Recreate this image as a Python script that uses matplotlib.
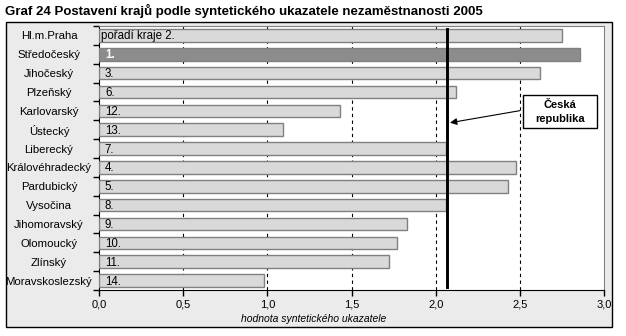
import matplotlib
matplotlib.use("Agg")
import matplotlib.pyplot as plt
import matplotlib.patches as patches
from matplotlib.ticker import FuncFormatter

plt.rcParams['font.family'] = ['Liberation Sans', 'DejaVu Sans']

# data
kraje = ["Hl.m.Praha", "Středočeský", "Jihočeský", "Plzeňský", "Karlovarský", "Ústecký",
         "Liberecký", "Královéhradecký", "Pardubický", "Vysočina", "Jihomoravský",
         "Olomoucký", "Zlínský", "Moravskoslezský"]
hodnoty = [2.75, 2.86, 2.62, 2.12, 1.43, 1.095, 2.06, 2.48, 2.43, 2.06, 1.83, 1.77, 1.72, 0.98]
poradi = ["pořadí kraje 2.", "1.", "3.", "6.", "12.", "13.", "7.", "4.", "5.", "8.",
          "9.", "10.", "11.", "14."]
cr_hodnota = 2.07

W, H = 626, 336
fig = plt.figure(figsize=(W / 100, H / 100), dpi=100)

# vnejsi ramecek grafu
fig.patches.append(patches.Rectangle((5.5 / W, 1 - 327 / H), 606 / W, 305 / H,
                                     transform=fig.transFigure, facecolor="#ebebeb",
                                     edgecolor="black", linewidth=1, zorder=-5))

fig.text(5 / W, 1 - 11 / H, "Graf 24 Postavení krajů podle syntetického ukazatele nezaměstnanosti 2005",
         fontsize=9.5, fontweight="bold", va="center", ha="left")

ax = fig.add_axes([99 / W, 1 - 290 / H, 505 / W, 264 / H])
ax.set_zorder(2)
ax.set_facecolor("white")

y = list(range(len(kraje)))
barvy = ["#8c8c8c" if k == "Středočeský" else "#d9d9d9" for k in kraje]
ax.barh(y, hodnoty, height=0.66, color=barvy, edgecolor="#808080", linewidth=1, zorder=3)

for i, txt in enumerate(poradi):
    bila = kraje[i] == "Středočeský"
    ax.text(0.012 if i == 0 else 0.035, i + 0.05, txt, va="center", ha="left", fontsize=8.3,
            color="white" if bila else "black", fontweight="bold" if bila else "normal", zorder=4)

# svisle carkovane mrizky
for g in [0.5, 1.0, 1.5, 2.0, 2.5]:
    ax.axvline(g, color="black", linestyle=(0, (3, 3)), linewidth=0.8, zorder=1)

ax.axvline(cr_hodnota, ymin=0.01, ymax=0.99, color="black", linewidth=2.1, zorder=5)

ax.set_xlim(0, 3.0)
ax.set_ylim(len(kraje) - 0.5, -0.5)
ax.set_xticks([0, 0.5, 1.0, 1.5, 2.0, 2.5, 3.0])
ax.xaxis.set_major_formatter(FuncFormatter(lambda v, p: f"{v:.1f}".replace(".", ",")))
ax.tick_params(axis="x", direction="out", length=4, width=1, labelsize=8, pad=3)

ax.set_yticks(y)
ax.set_yticklabels(kraje, fontsize=8.2, ha="center")
ax.set_yticks([i + 0.5 for i in range(-1, len(kraje))], minor=True)
ax.tick_params(axis="y", which="major", length=0, pad=36)
ax.tick_params(axis="y", which="minor", direction="out", length=4, width=1)

for s in ["top", "right"]:
    ax.spines[s].set_color("#808080")
ax.spines["left"].set_color("black")
ax.spines["bottom"].set_color("black")

fig.text(314 / W, 1 - 319 / H, "hodnota syntetického ukazatele", fontsize=7.5,
         style="italic", ha="center", va="center")

# popisek Ceska republika
ax.add_patch(patches.Rectangle((2.519, 3.16), 0.44, 1.75, facecolor="white",
                               edgecolor="black", linewidth=1, zorder=6))
ax.text(2.739, 4.035, "Česká\nrepublika", fontsize=8, fontweight="bold", ha="center",
        va="center", linespacing=1.5, zorder=7)
ax.annotate("", xy=(cr_hodnota + 0.015, 4.63), xytext=(2.50, 3.99),
            arrowprops=dict(arrowstyle="-|>", color="black", linewidth=0.8,
                            mutation_scale=10, shrinkA=0, shrinkB=0),
            zorder=6)

fig.savefig("out.png", dpi=100)
